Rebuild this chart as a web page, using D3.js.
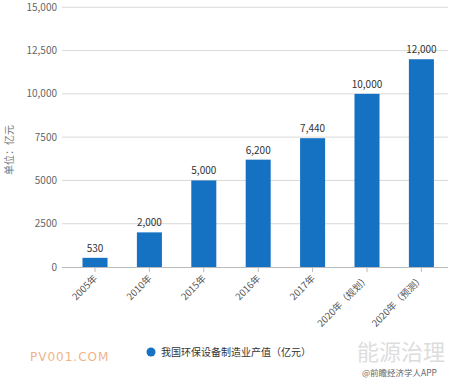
<!DOCTYPE html>
<html><head><meta charset="utf-8">
<script src="https://cdn.jsdelivr.net/npm/d3@7"></script>
<style>body{margin:0;background:#fff;}svg{display:block;font-family:"Microsoft YaHei","Noto Sans CJK SC",sans-serif;}</style>
</head><body>
<script>
const categories = ["2005年","2010年","2015年","2016年","2017年","2020年（规划）","2020年（预测）"];
const values = [530, 2000, 5000, 6200, 7440, 10000, 12000];
const valueLabels = ["530","2,000","5,000","6,200","7,440","10,000","12,000"];
const yTicks = [0, 2500, 5000, 7500, 10000, 12500, 15000];
const yTickLabels = ["0","2500","5000","7500","10,000","12,500","15,000"];
const seriesName = "我国环保设备制造业产值（亿元）";
const yTitle = "单位：亿元";

const W = 460, H = 379;
const svg = d3.select("body").append("svg").attr("width", W).attr("height", H);
const x = d3.scaleBand().domain(categories).range([67.8, 448.6]).paddingInner(0.54).paddingOuter(0.27);
const y = d3.scaleLinear().domain([0, 15000]).range([267, 7.3]);

// gridlines
svg.append("g").selectAll("line").data(yTicks.slice(1)).join("line")
  .attr("x1", 62).attr("x2", 448).attr("y1", d => y(d)).attr("y2", d => y(d))
  .attr("stroke", "#d9d9d9").attr("stroke-width", 1);

// y labels
svg.append("g").selectAll("text").data(yTicks).join("text")
  .attr("x", 57).attr("y", d => y(d) + 3.5).attr("text-anchor", "end")
  .attr("font-size", 10).attr("fill", "#666").text((d, i) => yTickLabels[i]);

// y title
svg.append("text").attr("transform", `translate(13,150) rotate(-90)`)
  .attr("text-anchor", "middle").attr("font-size", 10).attr("fill", "#777").text(yTitle);

// bars
svg.append("g").selectAll("rect").data(values).join("rect")
  .attr("x", (d, i) => x(categories[i])).attr("width", x.bandwidth())
  .attr("y", d => y(d)).attr("height", d => y(0) - y(d)).attr("fill", "#1572c2");

// value labels
svg.append("g").selectAll("text").data(values).join("text")
  .attr("x", (d, i) => x(categories[i]) + x.bandwidth() / 2).attr("y", d => y(d) - 6)
  .attr("text-anchor", "middle").attr("font-size", 10).attr("fill", "#333")
  .text((d, i) => valueLabels[i]);

// x axis
const xAxis = d3.axisBottom(x).tickSize(5).tickSizeOuter(0);
const gx = svg.append("g").attr("transform", `translate(0,${y(0)})`).call(xAxis);
gx.select(".domain").attr("stroke", "#bbb").attr("d", "M62,0.5H448");
gx.selectAll(".tick line").attr("stroke", "#bbb");
gx.selectAll(".tick text").attr("font-size", 9.5).attr("fill", "#555")
  .attr("font-family", "'Noto Sans CJK SC',sans-serif")
  .attr("text-anchor", "end").attr("dy", null).attr("y", 0).attr("x", 0)
  .attr("transform", "translate(3,12) rotate(-45)");

// legend
svg.append("circle").attr("cx", 151).attr("cy", 352).attr("r", 4.5).attr("fill", "#1572c2");
svg.append("text").attr("x", 161).attr("y", 356).attr("font-size", 10).attr("fill", "#333").text(seriesName);

// watermarks
svg.append("text").attr("x", 357).attr("y", 360).attr("font-size", 22).attr("fill", "#ddd").text("能源治理");
svg.append("text").attr("x", 30).attr("y", 361).attr("font-size", 12).attr("fill", "#f0b48a")
  .attr("letter-spacing", 1).attr("font-family", "'DejaVu Sans',sans-serif").text("PV001.COM");
svg.append("text").attr("x", 362).attr("y", 376).attr("font-size", 8.5).attr("fill", "#666").text("@前瞻经济学人APP");
</script>
</body></html>
